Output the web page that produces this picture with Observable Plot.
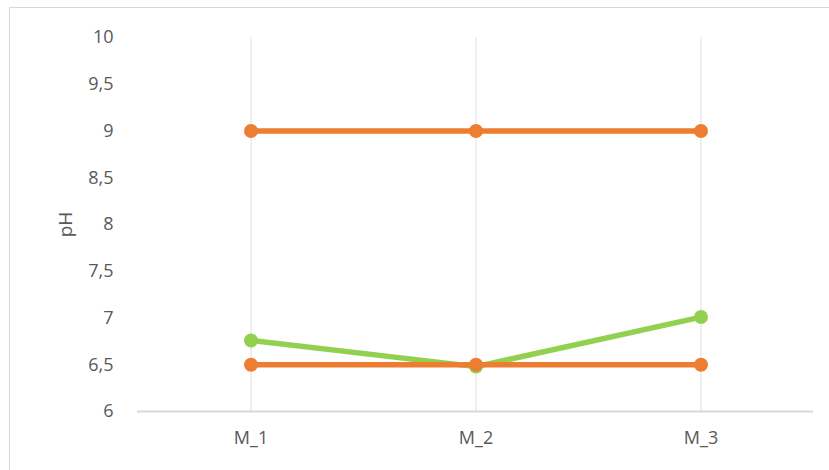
<!DOCTYPE html>
<html><head><meta charset="utf-8">
<script src="https://cdn.jsdelivr.net/npm/d3@7"></script>
<script src="https://cdn.jsdelivr.net/npm/@observablehq/plot@0.6"></script>
<style>
body{margin:0;background:#fff;}
#wrap{position:relative;width:829px;height:470px;overflow:hidden;}
#border{position:absolute;left:9px;top:7px;width:900px;height:600px;border:1.5px solid #d9d9d9;box-sizing:border-box;pointer-events:none;}
</style>
</head><body>
<div id="wrap"><div id="border"></div></div>
<script>
const categories = ["M_1", "M_2", "M_3"];
const upperLimit = [9, 9, 9];
const lowerLimit = [6.5, 6.5, 6.5];
const measured = [6.76, 6.48, 7.01];
const yTicks = [6, 6.5, 7, 7.5, 8, 8.5, 9, 9.5, 10];

const rows = [];
const series = [["measured", measured], ["upper", upperLimit], ["lower", lowerLimit]];
for (const [name, vals] of series) categories.forEach((c, i) => rows.push({series: name, cat: c, v: vals[i]}));
const colorOf = {measured: "#92D050", upper: "#ED7D31", lower: "#ED7D31"};

const fmt = d => String(d).replace(".", ",");

const chart = Plot.plot({
  width: 829, height: 470,
  marginLeft: 137, marginRight: 16, marginTop: 37, marginBottom: 59,
  style: {fontFamily: "'Open Sans', sans-serif", fontSize: "18px", color: "#595959", background: "transparent"},
  x: {type: "band", domain: categories, padding: 0, label: null},
  y: {domain: [6, 10], ticks: yTicks, label: null},
  marks: [
    Plot.gridX(categories, {stroke: "#eeeeee", strokeOpacity: 1, strokeWidth: 1.8}),
    Plot.ruleY([6], {stroke: "#d9d9d9", strokeWidth: 1.8}),
    Plot.axisY({ticks: yTicks, tickSize: 0, tickPadding: 24, tickFormat: fmt, fill: "#595959", fontSize: 18}),
    Plot.axisX({tickSize: 0, tickPadding: 20, fill: "#595959", fontSize: 18}),
    Plot.text(["pH"], {frameAnchor: "left", textAnchor: "middle", dx: -72, rotate: -90, fill: "#595959", fontSize: 19}),
    ...series.map(([name]) => Plot.line(rows.filter(r => r.series === name), {x: "cat", y: "v", stroke: colorOf[name], strokeWidth: 5.5})),
    ...series.map(([name]) => Plot.dot(rows.filter(r => r.series === name), {x: "cat", y: "v", fill: colorOf[name], r: 7}))
  ]
});
chart.style.position = "absolute";
chart.style.left = "0"; chart.style.top = "0";
document.getElementById("wrap").appendChild(chart);
</script>
</body></html>
